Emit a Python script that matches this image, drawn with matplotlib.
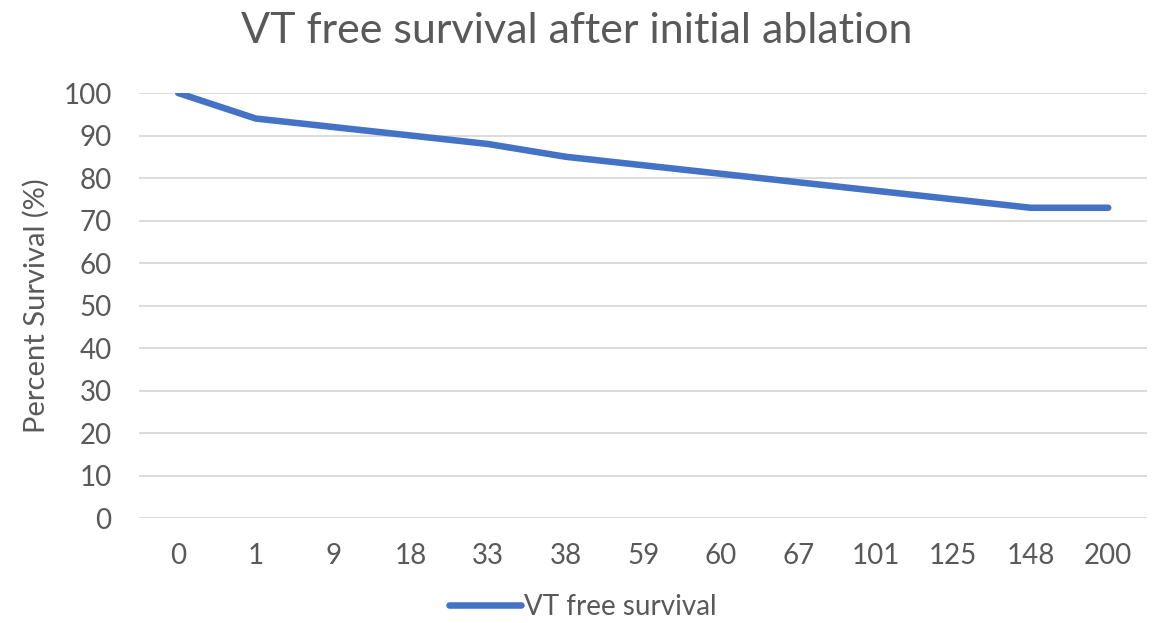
import matplotlib
matplotlib.use('Agg')
import matplotlib.pyplot as plt
import numpy as np

plt.rcParams['font.family'] = ['Lato', 'DejaVu Sans']

# months after ablation and percent still free of VT
months = ['0', '1', '9', '18', '33', '38', '59', '60', '67', '101', '125', '148', '200']
survival = [100, 94, 92, 90, 88, 85, 83, 81, 79, 77, 75, 73, 73]
y_ticks = list(range(0, 101, 10))

grey = '#595959'
blue = '#4472C4'

fig = plt.figure(figsize=(11.68, 6.23), dpi=100)
ax = fig.add_axes([0.1194, 0.1685, 0.8626, 0.6822])

x = np.arange(len(months))
ax.plot(x, survival, color=blue, linewidth=4.7, solid_capstyle='round',
        solid_joinstyle='round', label='VT free survival', zorder=3)

ax.set_xlim(-0.5, len(months) - 0.5)
ax.set_ylim(0, 100)
ax.set_xticks(x)
ax.set_xticklabels(months)
ax.set_yticks(y_ticks)
ax.yaxis.grid(True, color='#d9d9d9', linewidth=1.3)
ax.set_axisbelow(True)
for s in ax.spines.values():
    s.set_visible(False)
ax.tick_params(length=0, labelsize=20, labelcolor=grey)
ax.tick_params(axis='x', pad=18)
ax.tick_params(axis='y', pad=20)

ax.set_ylabel('Percent Survival (%)', fontsize=21, color=grey, labelpad=10)
fig.text(0.494, 0.950, 'VT free survival after initial ablation', ha='center',
         va='center', fontsize=31, color=grey)

leg = ax.legend(loc='center', bbox_to_anchor=(0.4987, 0.026),
                bbox_transform=fig.transFigure, frameon=False, fontsize=20,
                handlelength=2.6, handletextpad=0.1)
for t in leg.get_texts():
    t.set_color(grey)

fig.savefig('out.png', dpi=100)
